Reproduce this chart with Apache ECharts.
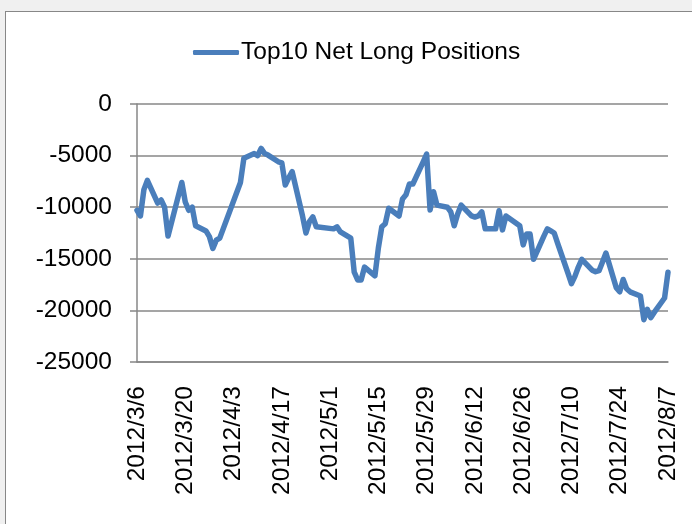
<!DOCTYPE html>
<html>
<head>
<meta charset="utf-8">
<script src="https://cdn.jsdelivr.net/npm/echarts@6/dist/echarts.min.js"></script>
<style>
  html, body { margin: 0; padding: 0; background: #f0f0f0; width: 692px; height: 524px; overflow: hidden; }
  #frame { position: absolute; left: 5px; top: 11px; width: 720px; height: 560px; background: #ffffff; border: 1px solid #878787; box-sizing: border-box; }
  #chart { position: absolute; left: 0; top: 0; width: 692px; height: 524px; }
</style>
</head>
<body>
<div id="frame"></div>
<div id="chart"></div>
<script>
// ---- data ----
const seriesName = 'Top10 Net Long Positions';
const dates = [
  '2012/3/6','2012/3/7','2012/3/8','2012/3/9','2012/3/12','2012/3/13','2012/3/14','2012/3/15','2012/3/16',
  '2012/3/19','2012/3/20','2012/3/21','2012/3/22','2012/3/23','2012/3/26','2012/3/27','2012/3/28','2012/3/29','2012/3/30',
  '2012/4/5','2012/4/6','2012/4/9','2012/4/10','2012/4/11','2012/4/12','2012/4/13','2012/4/16','2012/4/17','2012/4/18',
  '2012/4/19','2012/4/20','2012/4/23','2012/4/24','2012/4/25','2012/4/26','2012/4/27',
  '2012/5/2','2012/5/3','2012/5/4','2012/5/7','2012/5/8','2012/5/9','2012/5/10','2012/5/11','2012/5/14','2012/5/15',
  '2012/5/16','2012/5/17','2012/5/18','2012/5/21','2012/5/22','2012/5/23','2012/5/24','2012/5/25','2012/5/28','2012/5/29',
  '2012/5/30','2012/5/31','2012/6/1','2012/6/4','2012/6/5','2012/6/6','2012/6/7','2012/6/8','2012/6/11','2012/6/12',
  '2012/6/13','2012/6/14','2012/6/15','2012/6/18','2012/6/19','2012/6/20','2012/6/21','2012/6/25','2012/6/26','2012/6/27',
  '2012/6/28','2012/6/29','2012/7/2','2012/7/3','2012/7/4','2012/7/5','2012/7/6','2012/7/9','2012/7/10','2012/7/11',
  '2012/7/12','2012/7/13','2012/7/16','2012/7/17','2012/7/18','2012/7/19','2012/7/20','2012/7/23','2012/7/24','2012/7/25',
  '2012/7/26','2012/7/27','2012/7/30','2012/7/31','2012/8/1','2012/8/2','2012/8/3','2012/8/6','2012/8/7'
];
const values = [
  -10300,-10850,-8300,-7400,-9600,-9300,-10000,-12800,-11500,
  -7600,-9500,-10300,-10000,-11800,-12300,-12850,-14000,-13200,-13000,
  -7600,-5250,-4800,-5000,-4300,-4800,-4950,-5600,-5700,-7850,
  -7150,-6550,-10850,-12500,-11400,-10950,-11900,
  -12100,-11900,-12400,-13000,-16300,-17050,-17050,-15800,-16650,-13950,
  -11900,-11600,-10100,-10850,-9200,-8800,-7750,-7750,-5600,-4850,
  -10270,-8500,-9800,-10000,-10450,-11800,-10650,-9800,-10850,-10950,
  -10850,-10450,-12100,-12100,-10350,-12200,-10850,-11800,-13650,-12600,
  -12600,-15050,-12800,-12100,-12300,-12500,-13500,-16400,-17400,-16700,
  -15800,-15050,-16100,-16250,-16150,-15300,-14450,-17800,-18200,-17000,
  -17900,-18200,-18600,-20900,-19900,-20700,-20200,-18800,-16300
];
const xTickLabels = ['2012/3/6','2012/3/20','2012/4/3','2012/4/17','2012/5/1','2012/5/15',
  '2012/5/29','2012/6/12','2012/6/26','2012/7/10','2012/7/24','2012/8/7'];
const yMin = -25000, yMax = 0, yStep = 5000;

// ---- helpers ----
function toUTC(s) { const p = s.split('/').map(Number); return Date.UTC(p[0], p[1] - 1, p[2]); }
const baseDay = toUTC(xTickLabels[0]);
function dayOffset(s) { return Math.round((toUTC(s) - baseDay) / 86400000); }
const xMax = dayOffset(xTickLabels[xTickLabels.length - 1]);
const xStep = dayOffset(xTickLabels[1]);

const font = 'Liberation Sans';
const fs = 24.5;
const gray = '#878787';

const chart = echarts.init(document.getElementById('chart'), null, { renderer: 'canvas' });
chart.setOption({
  backgroundColor: 'transparent',
  animation: false,
  textStyle: { fontFamily: font },
  legend: {
    left: 188, top: 35,
    itemWidth: 46, itemHeight: 5, itemGap: 0,
    data: [{ name: seriesName, icon: 'roundRect' }],
    textStyle: { fontFamily: font, fontSize: fs, color: '#000', padding: [0, 0, 0, -3] }
  },
  grid: { left: 137, top: 104, right: 24, bottom: 162, containLabel: false },
  xAxis: {
    type: 'value', min: 0, max: xMax, interval: xStep,
    axisLine: { show: true, onZero: false, lineStyle: { color: gray, width: 1.5 } },
    axisTick: { show: false },
    splitLine: { show: false },
    axisLabel: {
      rotate: 90, margin: 24, fontSize: fs, color: '#000', fontFamily: font,
      hideOverlap: false, showMinLabel: true, showMaxLabel: true,
      formatter: function (v) { const i = Math.round(v / xStep); return xTickLabels[i] || ''; }
    }
  },
  yAxis: {
    type: 'value', min: yMin, max: yMax, interval: yStep,
    axisLine: { show: true, onZero: false, lineStyle: { color: gray, width: 1.5 } },
    axisTick: { show: true, length: 7, lineStyle: { color: gray, width: 1.5 } },
    splitLine: { show: true, lineStyle: { color: gray, width: 1.5 } },
    axisLabel: { margin: 25, fontSize: fs, color: '#000', fontFamily: font,
      formatter: function (v) { return String(v); } }
  },
  series: [{
    name: seriesName,
    type: 'line',
    data: dates.map((d, i) => [dayOffset(d), values[i]]),
    showSymbol: false,
    symbol: 'none',
    itemStyle: { color: '#4A7EBB' },
    lineStyle: { color: '#4A7EBB', width: 5.5, join: 'round', cap: 'round' }
  }]
});
</script>
</body>
</html>
